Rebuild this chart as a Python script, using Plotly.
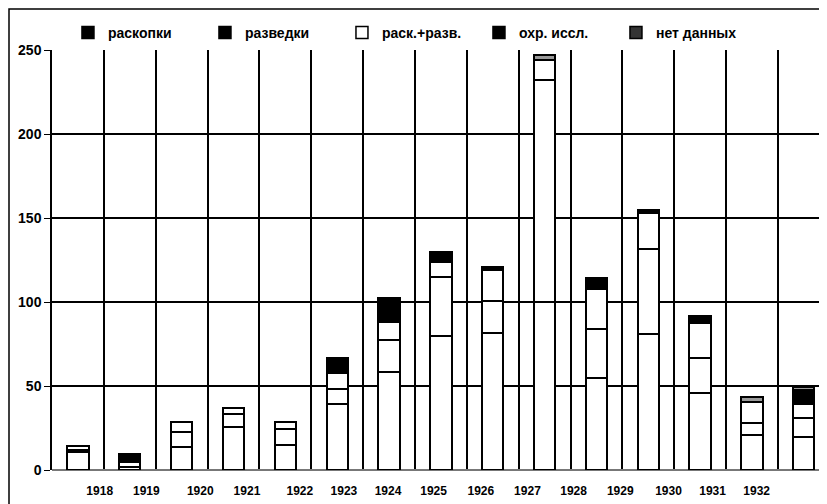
import plotly.graph_objects as go

years = [1918, 1919, 1920, 1921, 1922, 1923, 1924, 1925, 1926, 1927, 1928, 1929, 1930, 1931, 1932]
tick_labels = [str(y) for y in years]
tick_pos = [0.42, 1.32, 2.36, 3.26, 4.28, 5.13, 5.98, 6.86, 7.77, 8.67, 9.56, 10.46, 11.39, 12.24, 13.09]

series_names = ["раскопки", "разведки", "раск.+разв.", "охр. иссл.", "нет данных"]
raskopki  = [10.7, 2.0, 13.5, 25.4, 14.9, 39.3, 58.5, 79.8, 81.3, 100.0, 54.6, 80.8, 45.6, 20.8, 19.5]
razvedki  = [1.2, 3.0, 9.3, 7.7, 9.3, 8.7, 18.9, 35.2, 19.3, 132.0, 29.1, 51.0, 21.3, 7.4, 11.3]
rask_razv = [2.1, 1.0, 6.0, 3.6, 4.6, 9.5, 10.9, 8.6, 18.4, 12.0, 23.8, 21.0, 20.8, 12.5, 8.5]
ohr_issl  = [0.0, 3.0, 0.0, 0.0, 0.0, 9.0, 13.9, 6.0, 1.6, 0.0, 6.5, 2.2, 4.0, 0.0, 8.3]
net_dann  = [0.0, 0.5, 0.0, 0.0, 0.0, 0.0, 0.0, 0.0, 0.0, 3.0, 0.0, 0.0, 0.0, 2.9, 1.6]

values = [raskopki, razvedki, rask_razv, ohr_issl, net_dann]
bar_fills = ["white", "white", "white", "black", "#9a9a9a"]
legend_fills = ["black", "black", "white", "black", "#333333"]

x_idx = list(range(len(years)))
font = "Liberation Sans Narrow, Arial Narrow, Liberation Sans, Arial, sans-serif"

fig = go.Figure()
for name, vals, fill in zip(series_names, values, bar_fills):
    fig.add_trace(go.Bar(
        x=x_idx, y=vals, name=name, showlegend=False,
        marker=dict(color=fill, line=dict(color="black", width=2)),
        width=0.41,
    ))
for name, fill in zip(series_names, legend_fills):
    fig.add_trace(go.Bar(
        x=[None], y=[None], name=name, showlegend=True,
        marker=dict(color=fill, line=dict(color="black", width=1.5)),
    ))

fig.update_layout(
    barmode="stack",
    width=819, height=496,
    margin=dict(l=44, r=0, t=42, b=34),
    paper_bgcolor="white", plot_bgcolor="white",
    font=dict(family=font, size=13, color="black"),
    legend=dict(orientation="h", x=0.0206, xanchor="left", y=1.0405, yanchor="middle",
                font=dict(family=font, size=14, color="black", weight="bold"),
                itemwidth=30, traceorder="normal", entrywidth=92, entrywidthmode="pixels",
                bgcolor="rgba(0,0,0,0)"),
    xaxis=dict(range=[-0.5, 14.447], tickmode="array", tickvals=tick_pos, ticktext=tick_labels,
               tickangle=0, ticklabelstandoff=12,
               showgrid=False, zeroline=False, ticks="", showline=False,
               tickfont=dict(family=font, size=12, color="black", weight="bold"),
               minor=dict(tickmode="array", tickvals=[i - 0.5 for i in range(16)],
                          showgrid=True, gridcolor="black", gridwidth=1.5, ticks="")),
    yaxis=dict(range=[0, 250], tickvals=[0, 50, 100, 150, 200, 250],
               showgrid=True, gridcolor="black", gridwidth=1.5, zeroline=True,
               zerolinecolor="#777", zerolinewidth=1.5,
               showline=True, linecolor="black", linewidth=1.5,
               ticks="outside", ticklen=6, tickcolor="black",
               tickfont=dict(family=font, size=14, color="black", weight="bold")),
    shapes=[dict(type="rect", xref="paper", yref="paper",
                 x0=-43/775, x1=770/775, y0=-40/420, y1=1 + 41/420,
                 line=dict(color="black", width=1.5), fillcolor="rgba(0,0,0,0)", layer="below")],
)

fig.write_html("out.html")
